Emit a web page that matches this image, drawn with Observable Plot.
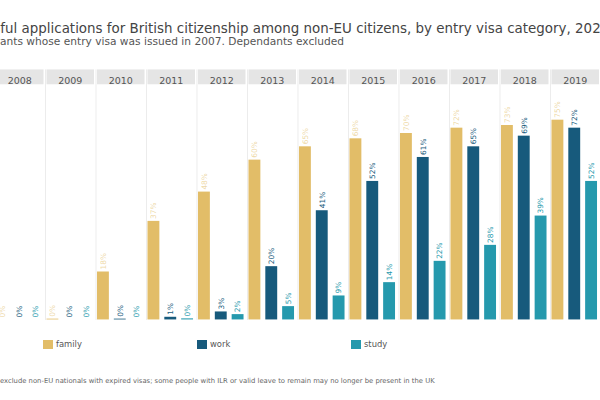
<!DOCTYPE html>
<html>
<head>
<meta charset="utf-8">
<script src="https://cdn.jsdelivr.net/npm/d3@7"></script>
<script src="https://cdn.jsdelivr.net/npm/@observablehq/plot@0.6"></script>
<style>
  html, body { margin: 0; padding: 0; background: #fff; }
  #wrap { position: relative; width: 600px; height: 400px; overflow: hidden; font-family: "DejaVu Sans", Verdana, sans-serif; }
  .t { position: absolute; white-space: nowrap; line-height: 1; }
  #title { color: #444; font-size: 12px; }
  #subtitle { color: #555; font-size: 10px; }
  #note { color: #666; font-size: 6px; }
  #chart { position: absolute; left: -6px; top: 62px; }
  .lg { position: absolute; top: 339.5px; display: flex; align-items: center; font-size: 8.4px; color: #555; line-height: 1; }
  .lg i { display: inline-block; width: 9.5px; height: 9.5px; margin-right: 3.5px; }
</style>
</head>
<body>
<div id="wrap">
  <div class="t" id="title"><span class="pre">Share of success</span><span class="vis">ful applications for British citizenship among non-EU citizens, by entry visa category, 202</span><span>0</span></div>
  <div class="t" id="subtitle"><span class="pre">Non-EU migr</span><span class="vis">ants whose entry visa was issued in 2007. Dependants excluded</span></div>
  <div id="chart"></div>
  <div id="legend"></div>
  <div class="t" id="note"><span class="pre">Note: figures </span><span class="vis">exclude non-EU nationals with expired visas; some people with ILR or valid leave to remain may no longer be present in the UK</span></div>
</div>
<script>
const years = [2008, 2009, 2010, 2011, 2012, 2013, 2014, 2015, 2016, 2017, 2018, 2019];
const categories = ["family", "work", "study"];
const family = [0, 0.3, 18, 37, 48, 60, 65, 68, 70, 72, 73, 75];
const work   = [0, 0, 0.3, 1, 3, 20, 41, 52, 61, 65, 69, 72];
const study  = [0, 0, 0, 0.4, 2, 5, 9, 14, 22, 28, 39, 52];
const colors = ["#e2bd68", "#175a7c", "#2599ad"];

const series = {family, work, study};
const data = years.flatMap((year, i) => categories.map(cat => ({year, cat, value: series[cat][i]})));

const chart = Plot.plot({
  width: 612,
  height: 270,
  marginTop: 7,
  marginBottom: 10,
  marginLeft: 0,
  marginRight: 0,
  style: {fontFamily: "DejaVu Sans, Verdana, sans-serif", background: "transparent"},
  fx: {domain: years, padding: 0, axis: null},
  x: {domain: categories, paddingInner: 0.27, paddingOuter: 0.12, axis: null},
  y: {domain: [0, 100], range: [260, 260 - 269], axis: null},
  color: {domain: categories, range: colors},
  marks: [
    Plot.frame({fill: "#ececec", stroke: null, insetRight: 50}),
    Plot.frame({fill: "#e5e5e5", stroke: null, insetLeft: 1.5, insetRight: 1.5, insetBottom: 238}),
    Plot.text(years, {fx: d => d, text: d => String(d), frameAnchor: "top", dy: 7.5, fontSize: 9.6, fill: "#555"}),
    Plot.barY(data, {fx: "year", x: "cat", y: "value", fill: "cat"}),
    Plot.text(data, {
      fx: "year", x: "cat", y: "value",
      text: d => Math.round(d.value) + "%",
      rotate: -90, textAnchor: "start", dy: -2.5,
      fontSize: 7.5, fill: "cat",
      fillOpacity: d => d.cat === "family" ? 0.6 : 1
    })
  ]
});
document.getElementById("chart").appendChild(chart);

// legend
const legend = document.getElementById("legend");
categories.forEach((c, i) => {
  const item = document.createElement("div");
  item.className = "lg";
  item.style.left = (43 + i * 154) + "px";
  item.innerHTML = `<i style="background:${colors[i]}"></i><span>${c}</span>`;
  legend.appendChild(item);
});

// fit clipped text lines (iterative, since hinting makes width non-linear)
function fit(id, target, baseline, shift) {
  const el = document.getElementById(id);
  const pre = el.querySelector(".pre"), vis = el.querySelector(".vis");
  let fs = parseFloat(getComputedStyle(el).fontSize);
  for (let k = 0; k < 4; k++) {
    const w = vis.getBoundingClientRect().width;
    fs = fs * target / w;
    el.style.fontSize = fs + "px";
  }
  el.style.left = (-pre.getBoundingClientRect().width + shift) + "px";
  el.style.top = (baseline - 0.85 * fs) + "px";
}
fit("title", 600, 33, 0.3);
fit("subtitle", 344, 46.5, 0);
fit("note", 434, 384, 0);
</script>
</body>
</html>
